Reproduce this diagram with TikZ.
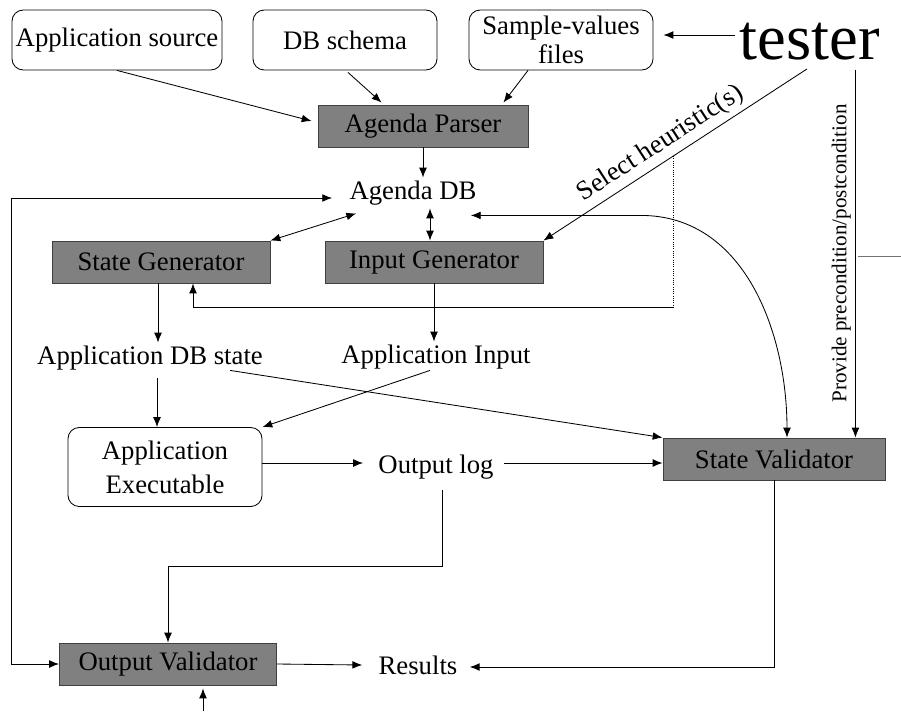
\documentclass[tikz,border=0pt]{standalone}
\usepackage{fontspec}
\setmainfont{Liberation Serif}
\usepackage{tikz}
\usetikzlibrary{arrows.meta,calc}
\definecolor{procgray}{RGB}{128,128,128}

\begin{document}
\begin{tikzpicture}[x=0.025cm,y=-0.025cm,
  font=\fontsize{19}{21}\selectfont,
  >={Latex[length=7pt,width=5.5pt]},
  line width=0.6pt,
  srcbox/.style={draw, rounded corners=8pt, inner sep=0pt, minimum height=1.5cm, align=center},
  procbox/.style={draw=black!75, fill=procgray, inner sep=0pt, minimum height=1.05cm},
  lbl/.style={inner sep=0pt, minimum height=0.75cm}]

\useasboundingbox (0,0) rectangle (901,711);

\node[srcbox, minimum width=5.25cm] (src) at (117,40){Application source};
\node[srcbox, minimum width=4.6cm] (schema) at (345,40){DB schema};
\node[srcbox, minimum width=4.6cm] (sample) at (561,40){Sample-values\\files};
\node[inner sep=0pt, font=\fontsize{46}{50}\selectfont] (tester) at (810,42){tester};
\node[procbox, minimum width=5.25cm] (parser) at (423,126){Agenda Parser};
\node[lbl] (agenda) at (413,193){Agenda DB};
\node[procbox, minimum width=5.45cm] (stategen) at (161,262){State Generator};
\node[procbox, minimum width=5.45cm] (inputgen) at (434,262){Input Generator};
\node[lbl] (dbstate) at (150,358){Application DB state};
\node[lbl] (appinput) at (436,357){Application Input};
\node[srcbox, minimum width=4.85cm, minimum height=1.975cm, font=\fontsize{19}{24}\selectfont] (exec) at (165,467){Application\\Executable};
\node[lbl] (outlog) at (436,467){Output log};
\node[procbox, minimum width=5.55cm] (stateval) at (774,459){State Validator};
\node[procbox, minimum width=5.425cm] (outval) at (168,664){Output Validator};
\node[lbl] (results) at (418,665){Results};
\coordinate (ext) at (203,711);

% inputs of the parser
\draw[->] (src.south) -- ($(parser.west)+(-6,-5)$);
\draw[->] ($(schema.south)+(3,2)$) -- ($(parser.north west)+(64,-2)$);
\draw[->] ($(sample.south)+(-33,0)$) -- ($(parser.north east)+(-25,-2)$);
\draw[->] ($(tester.west)+(-5,-7)$) -- ($(sample.east)+(10,-5)$);
\draw[->] (parser.south) -- (parser.south |- agenda.north);

% generators
\draw[<->] (stategen.north east) -- ($(agenda.south west)+(7,5)$);
\draw[<->] ($(inputgen.north)+(-4,0)$) -- ($(agenda.south)+(17,0)$);
\draw[->] ($(stategen.south)+(-3,0)$) -- ($(dbstate.north)+(8,0)$);
\draw[->] (inputgen.south) -- (inputgen.south |- appinput.north);

% tester choices
\draw[->] ($(tester.south)+(-3,8)$) -- coordinate[pos=0.508] (branch)
  node[sloped, above, pos=0.52]{Select heuristic(s)} (inputgen.north east);
\coordinate (turn) at ($(branch)+(0,151)$);
\draw[densely dotted] (branch) -- (turn);
\draw[->] (turn) -| ($(stategen.south)+(32,0)$);
\draw[->] ($(stateval.north east)+(-30,-368)$) --
  node[midway, rotate=90, anchor=south, inner sep=3pt, font=\fontsize{15}{18}\selectfont]{Provide precondition/postcondition}
  ($(stateval.north east)+(-30,0)$);
\draw[draw=black!55] ($(stateval.north east)+(-27,-181)$) -- ++(43,0);
\draw[<->] ($(agenda.south east)+(-6,7)$) -- ++(170,0) to[out=0,in=90] ($(stateval.north)+(13,0)$);

% execution
\draw[->] ($(dbstate.south east)+(-33,-3)$) -- (stateval.north west);
\draw[->] ($(appinput.south)+(-6,-2)$) -- (exec.north east);
\draw[->] ($(dbstate.south)+(7,5)$) -- ($(exec.north)+(-8,0)$);
\draw[->] ($(exec.east)+(0,-4)$) -- ($(outlog.west)+(-15,-4)$);
\draw[->] ($(outlog.east)+(10,-4)$) -- ($(stateval.west)+(0,4)$);
\draw[->] ($(outlog.south)+(6,8)$) -- ++(0,76) -| (outval.north);

% validation
\draw[<->] (outval.west) -- ++(-48,0) |- ($(agenda.west)+(-17,5)$);
\draw[->] (outval.east) -- ($(results.west)+(-16,0)$);
\draw[->] (stateval.south) |- ($(results.east)+(12,2)$);
\draw[->] (ext) -- ($(outval.south)+(35,3)$);

\end{tikzpicture}
\end{document}
